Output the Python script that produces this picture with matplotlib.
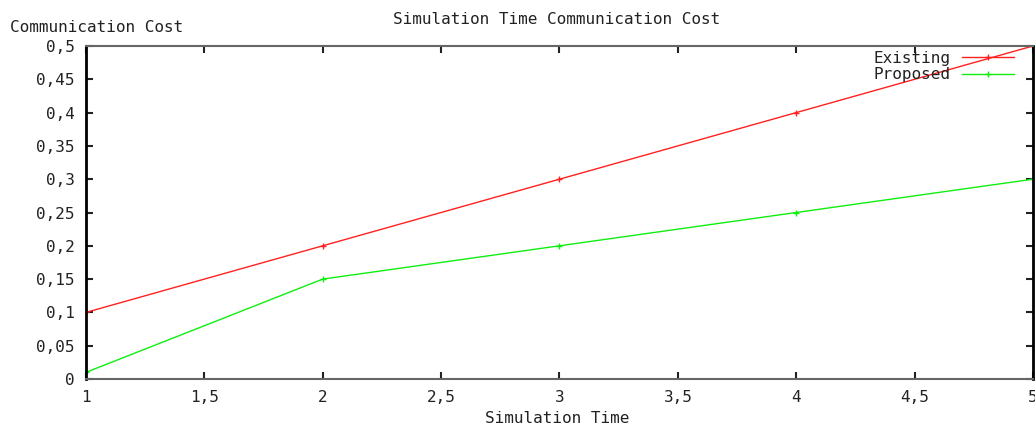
import matplotlib.pyplot as plt
from matplotlib.ticker import FuncFormatter

# dados
tempo = [1, 2, 3, 4, 5]
custo_existente = [0.1, 0.2, 0.3, 0.4, 0.5]
custo_proposto = [0.01, 0.15, 0.2, 0.25, 0.3]

xticks = [1, 1.5, 2, 2.5, 3, 3.5, 4, 4.5, 5]
yticks = [0, 0.05, 0.1, 0.15, 0.2, 0.25, 0.3, 0.35, 0.4, 0.45, 0.5]

plt.rcParams["font.family"] = ["DejaVu Sans Mono"]


def virgula(v, pos):
    # formato com vírgula decimal, como no original
    s = f"{v:g}"
    return s.replace(".", ",")


fig = plt.figure(figsize=(10.35, 4.28), dpi=100)
ax = fig.add_axes([0.0831, 0.1145, 0.9149, 0.778])

ax.plot(tempo, custo_existente, color="#ff2020", linewidth=1, marker="+",
        markersize=5, label="Existing")
ax.plot(tempo, custo_proposto, color="#10ee10", linewidth=1, marker="+",
        markersize=5, label="Proposed")

ax.set_xlim(1, 5)
ax.set_ylim(0, 0.5)
ax.set_xticks(xticks)
ax.set_yticks(yticks)
ax.xaxis.set_major_formatter(FuncFormatter(virgula))
ax.yaxis.set_major_formatter(FuncFormatter(virgula))
ax.tick_params(direction="in", length=5, width=1.5, top=True, right=True,
               labelsize=11.5, colors="#222222", pad=8)

for lado in ["left", "right"]:
    ax.spines[lado].set_linewidth(2)
    ax.spines[lado].set_color("black")
for lado in ["top", "bottom"]:
    ax.spines[lado].set_linewidth(1.5)
    ax.spines[lado].set_color("#666666")

fig.text(0.538, 0.955, "Simulation Time Communication Cost", ha="center",
         va="center", fontsize=11.5, color="#222222")
fig.text(0.01, 0.936, "Communication Cost", ha="left", va="center",
         fontsize=11.5, color="#222222")
fig.text(0.538, 0.022, "Simulation Time", ha="center", va="center",
         fontsize=11.5, color="#222222")

leg = ax.legend(loc="upper right", bbox_to_anchor=(0.992, 1.02), frameon=False,
                markerfirst=False, fontsize=11.5, handlelength=3.25,
                labelspacing=0.1, handletextpad=0.75, borderaxespad=0.3)
for t in leg.get_texts():
    t.set_ha("right")
    t.set_color("#222222")

fig.savefig("out.png", dpi=100)
